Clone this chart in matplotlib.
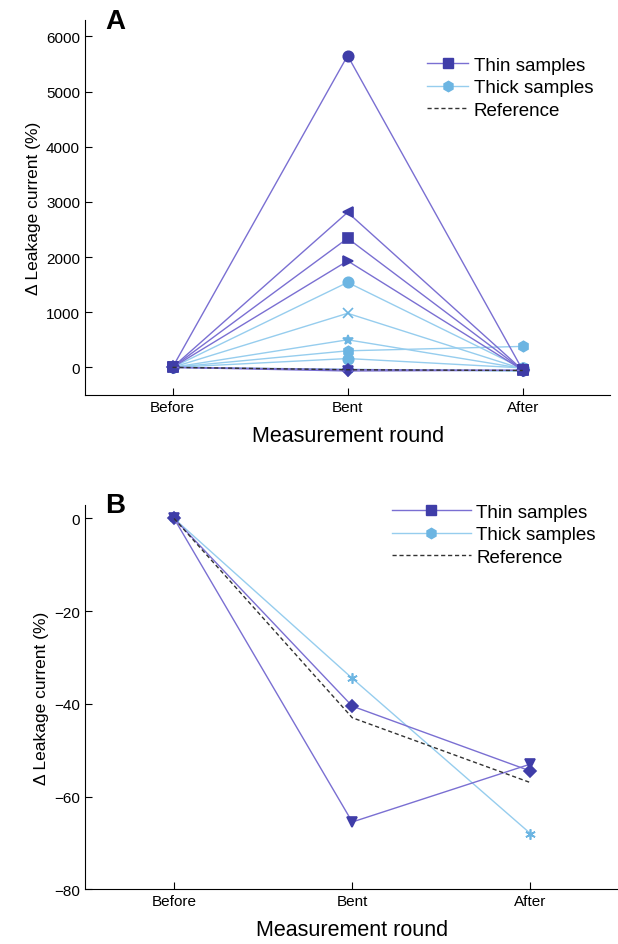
"""
Change in leakage current for thin and thick samples before, during and after bending.
"""

import matplotlib.pyplot as plt
import numpy as np

plt.rcParams['font.family'] = ['Liberation Sans', 'DejaVu Sans']

rounds = ['Before', 'Bent', 'After']

# Panel A: all samples
thin_a = [
    [0, 5650, -50],
    [0, 2810, -50],
    [0, 2340, -50],
    [0, 1930, -50],
    [0, -40.5, -54.5],
    [0, -65.5, -53],
]
thin_a_markers = ['o', '<', 's', '>', 'D', 'v']

thick_a = [
    [0, 1540, -20],
    [0, 980, -30],
    [0, 500, -20],
    [0, 300, 380],
    [0, 160, -10],
    [0, -34.5, -68],
]
thick_a_markers = ['o', 'x', '*', 'h', 'o', (6, 2, 0)]

reference = [0, -43, -57]

# Panel B: samples with negative change
thin_b = [
    [0, -40.5, -54.5],
    [0, -65.5, -53],
]
thin_b_markers = ['D', 'v']

thick_b = [
    [0, -34.5, -68],
]
thick_b_markers = [(6, 2, 0)]

THIN_LINE = '#7a6fd2'
THIN_MARK = '#3f3da8'
THICK_LINE = '#96cdee'
THICK_MARK = '#6cb5e2'


def draw(fig, ax, thin, thin_markers, thick, thick_markers, leg_xy, handle_len):
    """
    Draw one panel.
    """
    x = np.arange(len(rounds))
    for y, m in zip(thick, thick_markers):
        ms = 6.5 if m == 'D' else 7.5
        ax.plot(x, y, color=THICK_LINE, lw=1.0, marker=m, ms=ms,
                mfc=THICK_MARK, mec=THICK_MARK, mew=1.2)
    for y, m in zip(thin, thin_markers):
        ms = 6.5 if m == 'D' else 7.5
        ax.plot(x, y, color=THIN_LINE, lw=1.0, marker=m, ms=ms,
                mfc=THIN_MARK, mec=THIN_MARK, mew=1.2)
    ax.plot(x, reference, color='#333333', lw=1.0, ls=(0, (3, 2)))

    # legend proxies
    h1, = ax.plot([], [], color=THIN_LINE, lw=1.0, marker='s', ms=7,
                  mfc=THIN_MARK, mec=THIN_MARK)
    h2, = ax.plot([], [], color=THICK_LINE, lw=1.0, marker='h', ms=7.5,
                  mfc=THICK_MARK, mec=THICK_MARK)
    h3, = ax.plot([], [], color='#333333', lw=1.0, ls=(0, (3, 2)))
    fig.legend([h1, h2, h3], ['Thin samples', 'Thick samples', 'Reference'],
               loc='upper left', bbox_to_anchor=leg_xy, frameon=False,
               fontsize=13.5, handlelength=handle_len, handletextpad=0.3,
               labelspacing=0.28, borderpad=0, borderaxespad=0)

    ax.set_xticks(x)
    ax.set_xticklabels(rounds)
    ax.set_xlim(-0.5, 2.5)
    ax.set_xlabel('Measurement round', fontsize=15.5, labelpad=8)
    ax.set_ylabel('Δ Leakage current (%)', fontsize=12.5)
    ax.spines['top'].set_visible(False)
    ax.spines['right'].set_visible(False)
    ax.tick_params(direction='in', labelsize=11, length=5)


def main():
    """
    Build both panels and save.
    """
    fig = plt.figure(figsize=(6.18, 9.45), dpi=100)
    ax_a = fig.add_axes([0.1375, 0.581, 0.85, 0.397])
    ax_b = fig.add_axes([0.1375, 0.058, 0.865, 0.407])

    draw(fig, ax_a, thin_a, thin_a_markers, thick_a, thick_a_markers,
         (0.691, 0.939), 2.2)
    ax_a.set_ylim(-500, 6300)
    ax_a.set_yticks(range(0, 6001, 1000))

    draw(fig, ax_b, thin_b, thin_b_markers, thick_b, thick_b_markers,
         (0.634, 0.466), 4.2)
    ax_b.set_ylim(-80, 3)
    ax_b.set_yticks(range(-80, 1, 20))

    fig.text(0.17, 0.977, 'A', fontsize=20, fontweight='bold', va='center')
    fig.text(0.17, 0.465, 'B', fontsize=20, fontweight='bold', va='center')

    fig.savefig('out.png', dpi=100)


if __name__ == '__main__':
    main()
